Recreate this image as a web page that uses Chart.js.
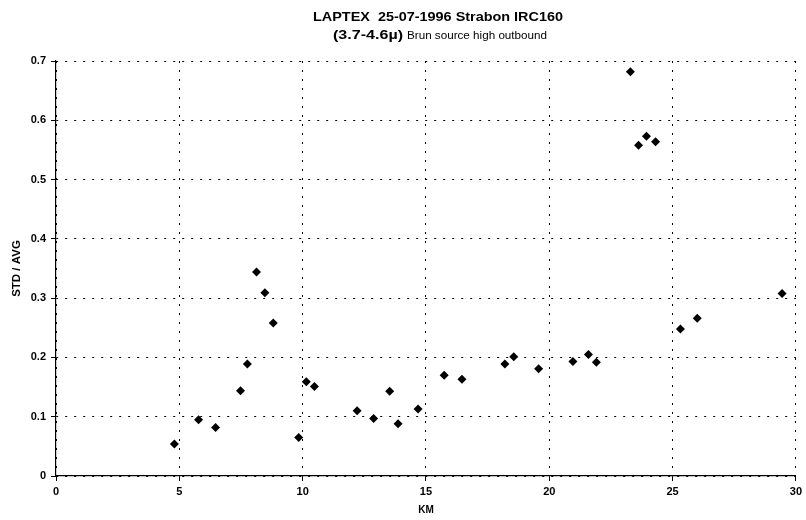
<!DOCTYPE html>
<html><head><meta charset="utf-8">
<script src="https://cdn.jsdelivr.net/npm/chart.js@4/dist/chart.umd.min.js"></script>
<style>html,body{margin:0;padding:0;background:#fff}#wrap{width:806px;height:520px;position:relative}</style>
</head><body><div id="wrap"><canvas id="c" width="806" height="520"></canvas></div>
<script>
const titleText = "LAPTEX  25-07-1996 Strabon IRC160";
const subtitleBold = "(3.7-4.6\u00b5)";
const subtitleRegular = "Brun source high outbound";
const xAxisTitle = "KM";
const yAxisTitle = "STD / AVG";

const km = [4.80, 5.78, 6.47, 7.48, 7.76, 8.13, 8.47, 8.81, 9.84, 10.15, 10.48,
            12.21, 12.88, 13.53, 13.87, 14.68, 15.74, 16.46, 18.20, 18.56, 19.57,
            20.96, 21.59, 21.91, 23.29, 23.62, 23.94, 24.31, 25.32, 26.00, 29.44];
const stdAvg = [0.054, 0.095, 0.082, 0.144, 0.189, 0.344, 0.309, 0.258, 0.065, 0.159, 0.151,
                0.110, 0.097, 0.143, 0.088, 0.113, 0.170, 0.163, 0.189, 0.201, 0.181,
                0.193, 0.205, 0.192, 0.682, 0.558, 0.573, 0.564, 0.248, 0.266, 0.308];

const xTicks = [0, 5, 10, 15, 20, 25, 30];
const yTicks = [0, 0.1, 0.2, 0.3, 0.4, 0.5, 0.6, 0.7];

const FONT = "'Liberation Sans', Arial, sans-serif";

// draws text horizontally stretched to a target width (the source uses a wide face)
function wideText(ctx, text, font, x, y, targetW) {
  ctx.font = font;
  const w = ctx.measureText(text).width;
  const sx = targetW / w;
  ctx.save();
  ctx.translate(x, y);
  ctx.scale(sx, 1);
  ctx.fillText(text, 0, 0);
  ctx.restore();
}

const titlePlugin = {
  id: 'customTitle',
  afterDraw(chart) {
    const ctx = chart.ctx;
    ctx.save();
    ctx.fillStyle = '#000';
    ctx.textBaseline = 'alphabetic';
    ctx.textAlign = 'left';
    wideText(ctx, titleText, "bold 13px " + FONT, 313, 21, 250);
    wideText(ctx, subtitleBold, "bold 12px " + FONT, 333, 38.5, 70);
    wideText(ctx, subtitleRegular, "10px " + FONT, 407, 38.5, 140);
    ctx.restore();
  }
};

const data = km.map((x, i) => ({ x: x, y: stdAvg[i] }));

const gridOpts = { color: '#000', lineWidth: 1, tickLength: 5, tickBorderDash: [], tickColor: '#000' };
const borderOpts = { display: true, color: '#000', width: 1.2, dash: [2, 7] };

new Chart(document.getElementById('c'), {
  type: 'scatter',
  data: {
    datasets: [{
      data: data,
      pointStyle: 'rectRot',
      pointRadius: 4.5,
      pointBackgroundColor: '#000',
      pointBorderColor: '#000',
      pointBorderWidth: 0,
      showLine: false
    }]
  },
  options: {
    responsive: false,
    animation: false,
    devicePixelRatio: 1,
    layout: { padding: { left: 0, right: 9, top: 61, bottom: 0 } },
    plugins: { legend: { display: false }, tooltip: { enabled: false }, title: { display: false } },
    scales: {
      x: {
        type: 'linear',
        min: 0, max: 30,
        afterBuildTicks: (s) => { s.ticks = xTicks.map(v => ({ value: v })); },
        afterFit: (s) => { s.height = 44; },
        ticks: { color: '#000', font: { family: FONT, size: 11, weight: 'bold' }, padding: 4, maxRotation: 0 },
        grid: gridOpts,
        border: borderOpts,
        title: { display: true, text: xAxisTitle, color: '#000', font: { family: FONT, size: 10, weight: 'bold' }, padding: { top: 0, bottom: 4 } }
      },
      y: {
        type: 'linear',
        min: 0, max: 0.7,
        afterBuildTicks: (s) => { s.ticks = yTicks.map(v => ({ value: v })); },
        afterFit: (s) => { s.width = 56; },
        ticks: { color: '#000', font: { family: FONT, size: 11, weight: 'bold' }, padding: 5,
                 callback: (v) => String(Math.round(v * 10) / 10) },
        grid: gridOpts,
        border: borderOpts,
        title: { display: true, text: yAxisTitle, color: '#000', font: { family: FONT, size: 11.5, weight: 'bold' }, padding: { top: 10, bottom: 0 } }
      }
    }
  },
  plugins: [titlePlugin]
});
</script></body></html>
